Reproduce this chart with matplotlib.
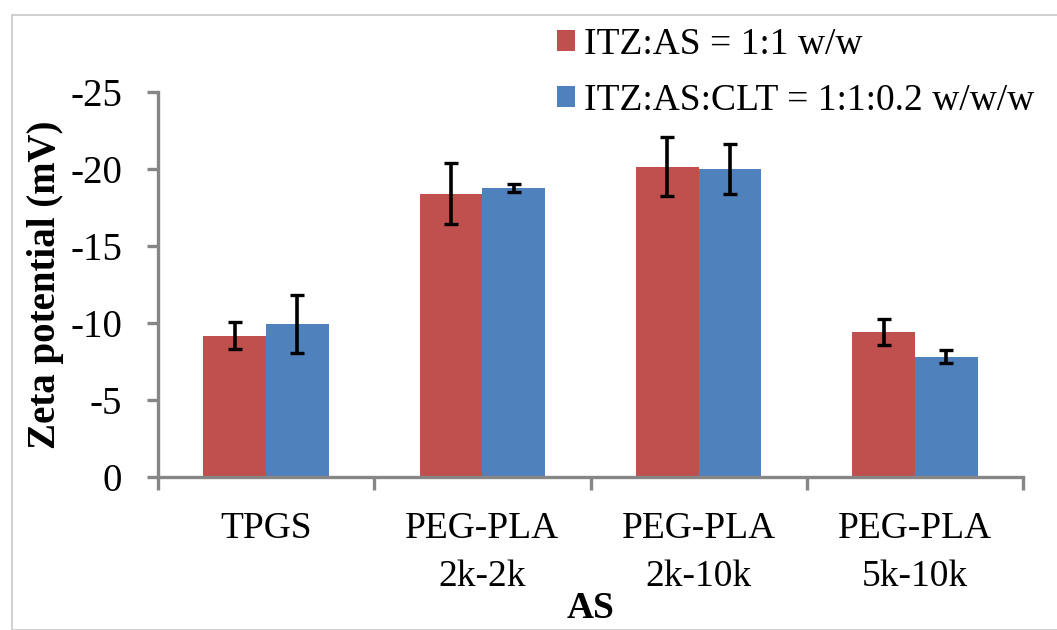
import matplotlib
matplotlib.use("Agg")
import matplotlib.pyplot as plt
import numpy as np
from matplotlib.patches import Rectangle

plt.rcParams['font.family'] = ['Liberation Serif', 'DejaVu Serif']
plt.rcParams['axes.unicode_minus'] = False

categories = ["TPGS", "PEG-PLA\n2k-2k", "PEG-PLA\n2k-10k", "PEG-PLA\n5k-10k"]
series_names = ["ITZ:AS = 1:1 w/w", "ITZ:AS:CLT = 1:1:0.2 w/w/w"]
itz_as = [-9.18, -18.4, -20.15, -9.4]
itz_as_err = [0.88, 2.0, 1.9, 0.85]
itz_as_clt = [-9.93, -18.75, -20.0, -7.8]
itz_as_clt_err = [1.88, 0.25, 1.65, 0.42]
colors = ["#C0504D", "#4F81BD"]
yticks = [0, -5, -10, -15, -20, -25]

FS = 27
W, H = 1057, 630
fig = plt.figure(figsize=(W / 100, H / 100), dpi=100)
fig.patches.append(Rectangle((12 / W, 0), 1.0, 1 - 15 / H, transform=fig.transFigure,
                             fill=False, edgecolor="#C8C8C8", linewidth=1.2))
ax = fig.add_axes([158 / W, 1 - 477 / H, (1023 - 158) / W, (477 - 92) / H])

x = np.arange(len(categories))
w = 0.29
err_kw = dict(ecolor="black", elinewidth=2.6, capsize=4.7, capthick=2.4)
ax.bar(x - w / 2, itz_as, w, yerr=itz_as_err, color=colors[0], label=series_names[0],
       error_kw=err_kw, zorder=2)
ax.bar(x + w / 2, itz_as_clt, w, yerr=itz_as_clt_err, color=colors[1], label=series_names[1],
       error_kw=err_kw, zorder=2)

ax.set_xlim(-0.5, len(categories) - 0.5)
ax.set_ylim(0, -25)
ax.set_yticks(yticks)
ax.set_yticklabels([str(v) for v in yticks], fontsize=28)

ax.set_xticks(np.arange(len(categories) + 1) - 0.5)
ax.set_xticklabels([])
ax.set_xticks(x, minor=True)
ax.set_xticklabels(categories, minor=True, fontsize=FS, linespacing=1.5)
ax.tick_params(axis='x', which='minor', length=0, pad=25)
ax.tick_params(axis='x', which='major', length=9, width=2.4, color="#868686", direction='out')
ax.tick_params(axis='y', length=8, width=2.4, color="#868686", direction='out', pad=18)

for s in ["top", "right"]:
    ax.spines[s].set_visible(False)
for s in ["left", "bottom"]:
    ax.spines[s].set_color("#868686")
    ax.spines[s].set_linewidth(2.4)

ax.set_ylabel("Zeta potential (mV)", fontsize=28, fontweight='bold', labelpad=4)
ax.set_xlabel("AS", fontsize=FS, fontweight='bold', labelpad=-2)

fig.legend(loc="upper left", bbox_to_anchor=(557 / W, 1 - 27 / H), frameon=False,
           fontsize=FS, handlelength=0.48, handleheight=0.48, handletextpad=0.25,
           labelspacing=0.58, borderaxespad=0, borderpad=0)

fig.savefig("out.png", dpi=100)
